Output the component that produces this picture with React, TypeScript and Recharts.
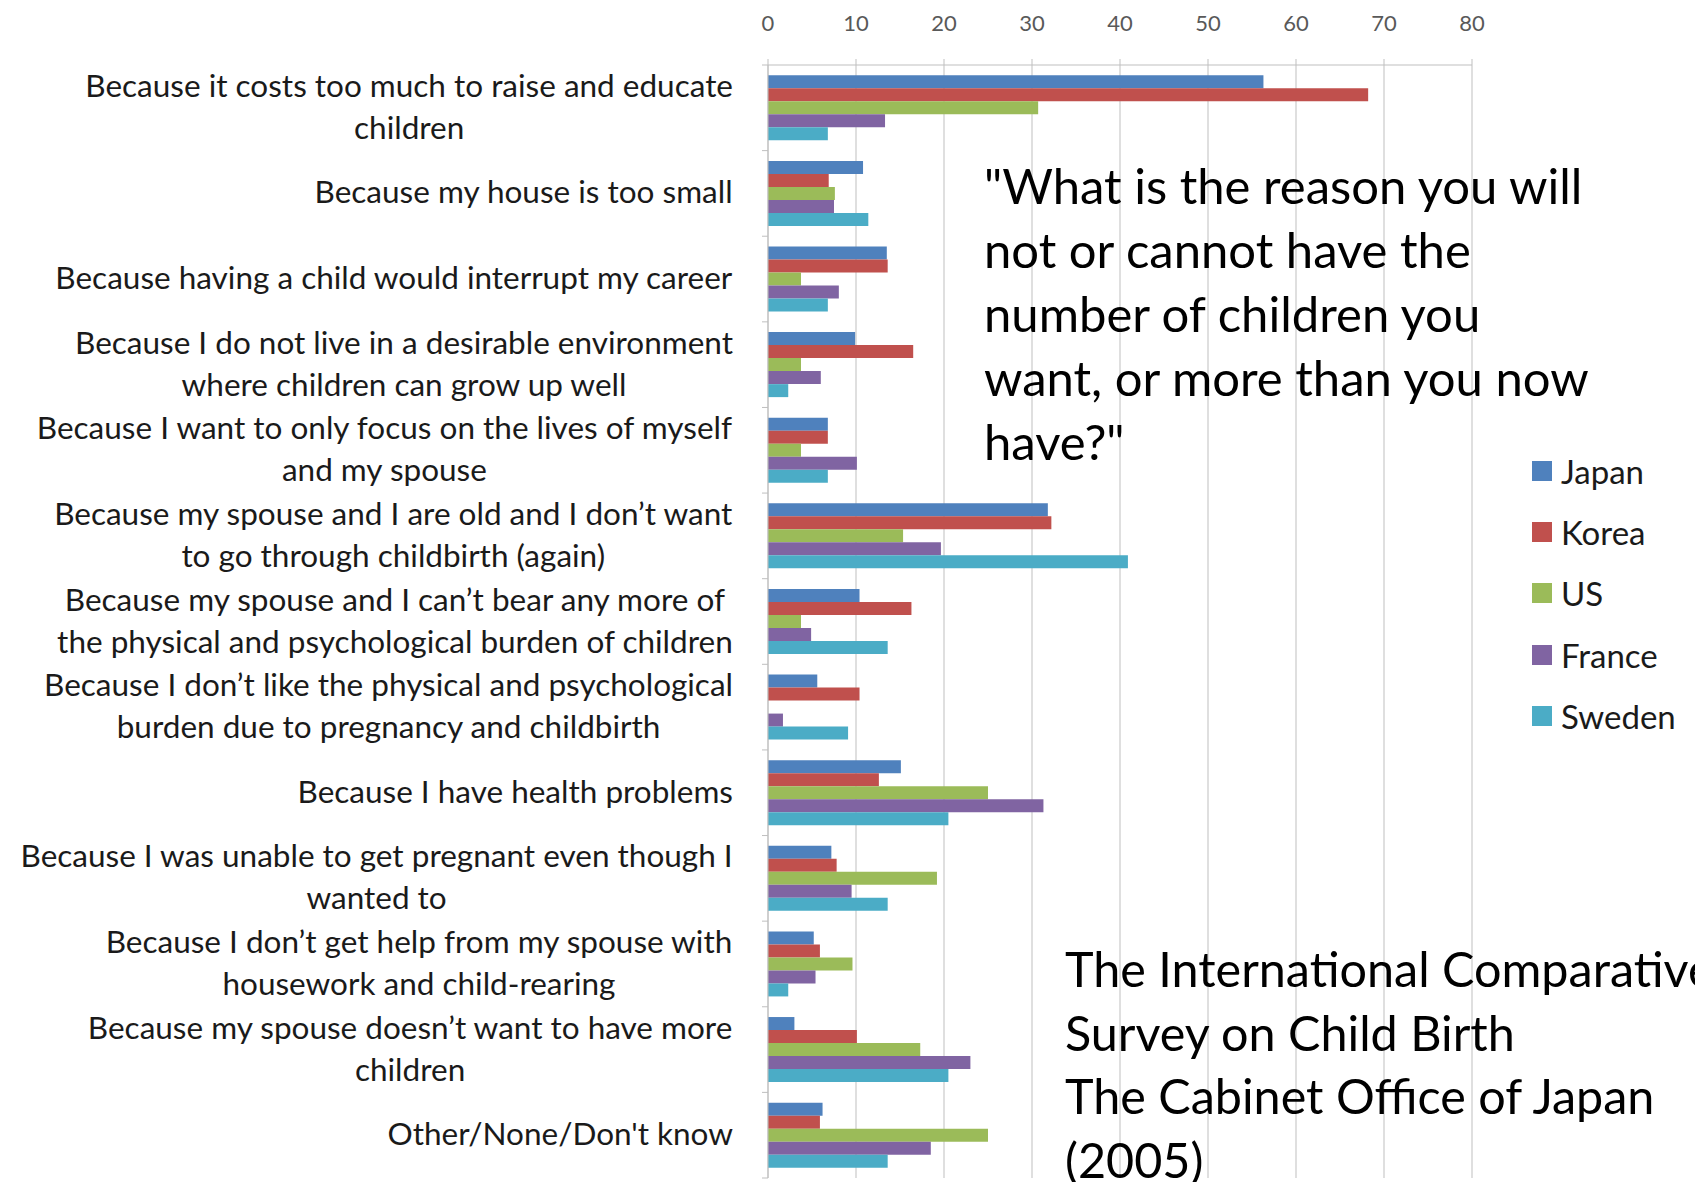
import React from "react";
import { BarChart, Bar, XAxis, YAxis, CartesianGrid, Customized } from "recharts";

const categories = [
  "Because it costs too much to raise and educate\nchildren",
  "Because my house is too small",
  "Because having a child would interrupt my career",
  "Because I do not live in a desirable environment\nwhere children can grow up well",
  "Because I want to only focus on the lives of myself\nand my spouse",
  "Because my spouse and I are old and I don’t want\nto go through childbirth (again)",
  "Because my spouse and I can’t bear any more of\nthe physical and psychological burden of children",
  "Because I don’t like the physical and psychological\nburden due to pregnancy and childbirth",
  "Because I have health problems",
  "Because I was unable to get pregnant even though I\nwanted to",
  "Because I don’t get help from my spouse with\nhousework and child-rearing",
  "Because my spouse doesn’t want to have more\nchildren",
  "Other/None/Don't know",
];

const japan = [56.3, 10.8, 13.5, 9.9, 6.8, 31.8, 10.4, 5.6, 15.1, 7.2, 5.2, 3.0, 6.2];
const korea = [68.2, 6.9, 13.6, 16.5, 6.8, 32.2, 16.3, 10.4, 12.6, 7.8, 5.9, 10.1, 5.9];
const us = [30.7, 7.6, 3.75, 3.75, 3.75, 15.35, 3.75, 0, 25.0, 19.2, 9.6, 17.3, 25.0];
const france = [13.3, 7.5, 8.05, 6.0, 10.1, 19.65, 4.9, 1.7, 31.3, 9.5, 5.4, 23.0, 18.5];
const sweden = [6.8, 11.4, 6.8, 2.3, 6.8, 40.9, 13.6, 9.1, 20.5, 13.6, 2.3, 20.5, 13.6];

const xTicks = [0, 10, 20, 30, 40, 50, 60, 70, 80];

const seriesNames = ["Japan", "Korea", "US", "France", "Sweden"];
const seriesColors = ["#4F81BD", "#C0504D", "#9BBB59", "#8064A2", "#4BACC6"];

const titleLines = [
  "\"What is the reason you will",
  "not or cannot have the",
  "number of children you",
  "want, or more than you now",
  "have?\"",
];
const sourceLines = [
  "The International Comparative",
  "Survey on Child Birth",
  "The Cabinet Office of Japan",
  "(2005)",
];

const data = categories.map((c, i) => ({
  category: c,
  Japan: japan[i],
  Korea: korea[i],
  US: us[i],
  France: france[i],
  Sweden: sweden[i],
}));

const W = 1695;
const H = 1182;
const PLOT_TOP = 65;
const PLOT_BOTTOM = 1178;
const PLOT_LEFT = 768;
const PLOT_RIGHT = 1472;
const BAND = (PLOT_BOTTOM - PLOT_TOP) / categories.length;
const FONT = "Lato, 'Open Sans', sans-serif";
const LABEL_SIZE = 31.5;
const GRID = "#BFBFBF";

let ctx: CanvasRenderingContext2D | null = null;
function measure(text: string, size: number) {
  if (!ctx) {
    const c = document.createElement("canvas");
    ctx = c.getContext("2d");
  }
  if (!ctx) return text.length * size * 0.5;
  ctx.font = `${size}px Lato`;
  return ctx.measureText(text).width;
}

const YTick = (props: any) => {
  const { y, payload, index } = props;
  const lines = String(payload.value).split("\n");
  const maxW = Math.max(...lines.map((l) => measure(l, LABEL_SIZE)));
  const right = 733;
  const cx = right - maxW / 2;
  const lh = 42;
  const first = y - ((lines.length - 1) * lh) / 2 + 10;
  return (
    <g>
      <line x1={PLOT_LEFT - 6} x2={PLOT_LEFT} y1={y - BAND / 2} y2={y - BAND / 2} stroke={GRID} />
      {index === categories.length - 1 && (
        <line x1={PLOT_LEFT - 6} x2={PLOT_LEFT} y1={y + BAND / 2} y2={y + BAND / 2} stroke={GRID} />
      )}
      {lines.map((l, i) => (
        <text
          key={i}
          x={cx}
          y={first + i * lh}
          textAnchor="middle"
          fontSize={LABEL_SIZE}
          fontFamily={FONT}
          fill="#1a1a1a"
        >
          {l}
        </text>
      ))}
    </g>
  );
};

const XTick = (props: any) => {
  const { x, payload } = props;
  return (
    <text x={x} y={31} textAnchor="middle" fontSize={22} fontFamily={FONT} fill="#595959">
      {payload.value}
    </text>
  );
};

const Annotations = () => (
  <g fontFamily={FONT} fill="#000">
    {titleLines.map((l, i) => (
      <text key={"t" + i} x={984} y={187 + i * 64 + 17} fontSize={49}>
        {l}
      </text>
    ))}
    {sourceLines.map((l, i) => (
      <text key={"s" + i} x={1065} y={970 + i * 63.5 + 17} fontSize={48.5}>
        {l}
      </text>
    ))}
  </g>
);

export default function App() {
  return (
    <div style={{ position: "absolute", left: 0, top: 0, width: W, height: H, background: "#fff", overflow: "hidden" }}>
      <BarChart
        width={W}
        height={H}
        data={data}
        layout="vertical"
        margin={{ top: 0, right: W - PLOT_RIGHT, bottom: H - PLOT_BOTTOM, left: 0 }}
        barCategoryGap="12%"
        barGap={0}
      >
        <CartesianGrid vertical={true} horizontal={false} stroke={GRID} strokeDasharray="" />
        <XAxis
          type="number"
          orientation="top"
          domain={[0, 80]}
          ticks={xTicks}
          height={PLOT_TOP}
          axisLine={{ stroke: GRID }}
          tickLine={{ stroke: GRID }}
          tickSize={6}
          tick={<XTick />}
          interval={0}
        />
        <YAxis
          type="category"
          dataKey="category"
          width={PLOT_LEFT}
          axisLine={{ stroke: GRID }}
          tickLine={false}
          tick={<YTick />}
          interval={0}
        />
        {seriesNames.map((n, i) => (
          <Bar key={n} dataKey={n} fill={seriesColors[i]} isAnimationActive={false} />
        ))}
        <Customized component={<Annotations />} />
      </BarChart>
      <div style={{ position: "absolute", left: 1532, top: 440, fontFamily: FONT }}>
        {seriesNames.map((n, i) => (
          <div key={n} style={{ display: "flex", alignItems: "center", height: 61.3 }}>
            <div style={{ width: 20, height: 20, background: seriesColors[i], marginRight: 9 }} />
            <span style={{ fontSize: 33, color: "#1a1a1a" }}>{n}</span>
          </div>
        ))}
      </div>
    </div>
  );
}
